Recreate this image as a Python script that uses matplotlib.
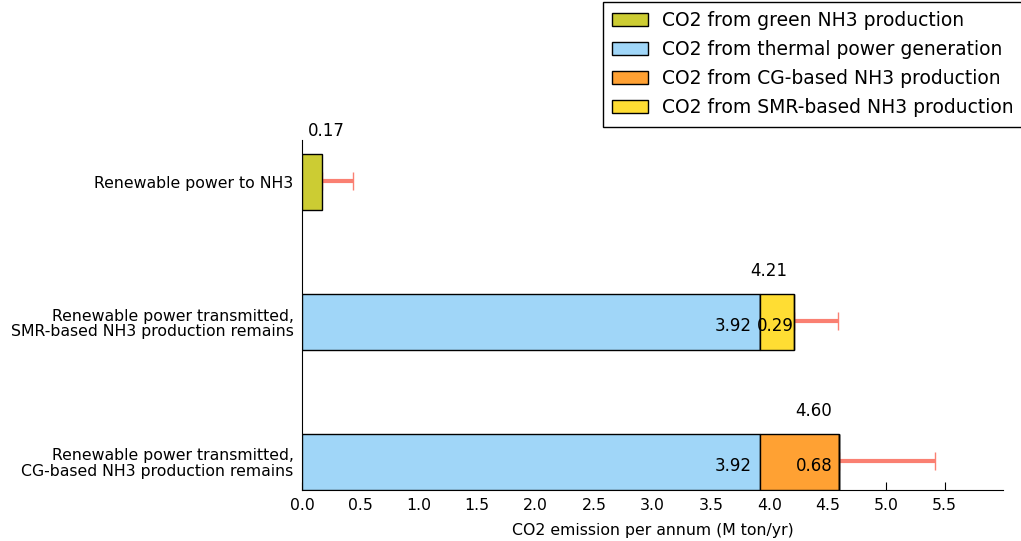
import matplotlib
matplotlib.use("Agg")
import matplotlib.pyplot as plt
from matplotlib.patches import Patch

# Scenarios (bottom to top) and their CO2 components (M ton/yr)
scenarios = [
    "Renewable power transmitted,\nCG-based NH3 production remains",
    "Renewable power transmitted,\nSMR-based NH3 production remains",
    "Renewable power to NH3",
]
thermal_power = [3.92, 3.92, 0.0]
cg_nh3 = [0.68, 0.0, 0.0]
smr_nh3 = [0.0, 0.29, 0.0]
green_nh3 = [0.0, 0.0, 0.17]
totals = [4.60, 4.21, 0.17]
upper_err = [0.82, 0.38, 0.27]

xticks = [0.0, 0.5, 1.0, 1.5, 2.0, 2.5, 3.0, 3.5, 4.0, 4.5, 5.0, 5.5]

c_green = "#cccc33"
c_thermal = "#a0d6f8"
c_cg = "#ffa133"
c_smr = "#ffdd33"
c_err = "#fa8072"

fig = plt.figure(figsize=(10.21, 5.41), dpi=100)
ax = fig.add_axes([0.2958, 0.0943, 0.6866, 0.6467])

ypos = list(range(len(scenarios)))
h = 0.4
kw = dict(height=h, edgecolor="black", linewidth=1.0, zorder=3)

ax.barh(ypos, thermal_power, color=c_thermal, **kw)
left = list(thermal_power)
ax.barh(ypos, cg_nh3, left=left, color=c_cg, **kw)
left = [a + b for a, b in zip(left, cg_nh3)]
ax.barh(ypos, smr_nh3, left=left, color=c_smr, **kw)
left = [a + b for a, b in zip(left, smr_nh3)]
ax.barh(ypos, green_nh3, left=left, color=c_green, **kw)

# error bars on the totals (upper side only)
ax.errorbar(totals, [y + 0.01 for y in ypos], xerr=[[0] * 3, upper_err],
            fmt="none", ecolor=c_err, elinewidth=3, capsize=6.5, capthick=1,
            zorder=2)

fs = 12
# segment value labels
for y, t, c, s in zip(ypos, thermal_power, cg_nh3, smr_nh3):
    if t > 0:
        ax.text(t - 0.075, y - 0.03, f"{t:.2f}", ha="right", va="center",
                fontsize=fs, zorder=5)
    if c > 0:
        ax.text(t + c - 0.06, y - 0.03, f"{c:.2f}", ha="right", va="center",
                fontsize=fs, zorder=5)
    if s > 0:
        ax.text(t + s - 0.005, y - 0.03, f"{s:.2f}", ha="right", va="center",
                fontsize=fs, zorder=5)

# totals above the bars
for y, tot in zip(ypos, totals):
    ax.text(max(tot - 0.06, 0.37), y + h / 2 + 0.165, f"{tot:.2f}", ha="right",
            va="center", fontsize=fs)

ax.set_xlim(0, 6.0)
ax.set_ylim(-0.2, 2.3)
ax.set_xticks(xticks)
ax.set_xticklabels([f"{v:.1f}" for v in xticks])
ax.set_yticks(ypos)
ax.set_yticklabels(scenarios, fontsize=11.3, linespacing=1.05)
ax.tick_params(axis="x", direction="in", length=6, labelsize=11.3, pad=6)
ax.tick_params(axis="y", direction="in", length=6, pad=6)
for side in ("top", "right"):
    ax.spines[side].set_visible(False)
ax.set_xlabel("CO2 emission per annum (M ton/yr)", fontsize=11.3, labelpad=7)

handles = [
    Patch(facecolor=c_green, edgecolor="black", label="CO2 from green NH3 production"),
    Patch(facecolor=c_thermal, edgecolor="black", label="CO2 from thermal power generation"),
    Patch(facecolor=c_cg, edgecolor="black", label="CO2 from CG-based NH3 production"),
    Patch(facecolor=c_smr, edgecolor="black", label="CO2 from SMR-based NH3 production"),
]
leg = fig.legend(handles=handles, loc="upper left",
                 bbox_to_anchor=(603 / 1021, 1 - 2 / 541),
                 fontsize=13.5, fancybox=False, framealpha=1, edgecolor="black",
                 borderpad=0.5, labelspacing=0.53, handlelength=1.9,
                 handleheight=0.7, handletextpad=0.75, borderaxespad=0.0)
leg.get_frame().set_linewidth(1.0)

fig.savefig("out.png", dpi=100)
